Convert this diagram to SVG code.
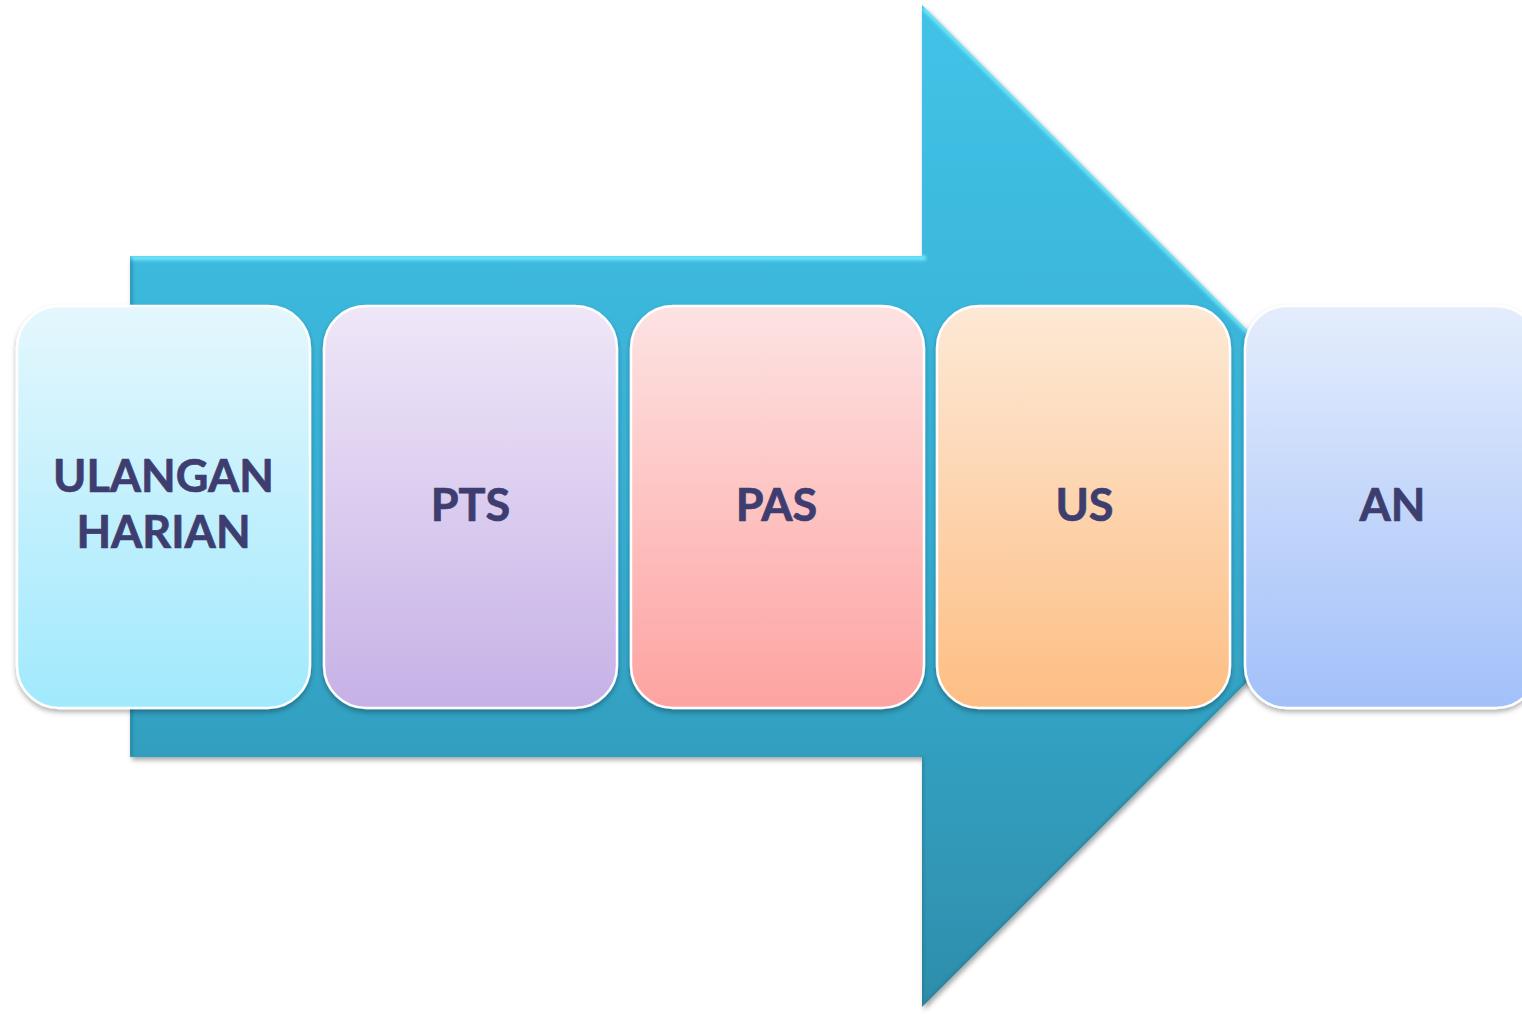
<svg xmlns="http://www.w3.org/2000/svg" width="1522" height="1014" viewBox="0 0 1522 1014">
  <defs>
    <linearGradient id="arrowFill" x1="0" y1="5" x2="0" y2="1007" gradientUnits="userSpaceOnUse">
      <stop offset="0" stop-color="#41C3E7"/>
      <stop offset="0.5" stop-color="#37AFD3"/>
      <stop offset="1" stop-color="#2E8EAB"/>
    </linearGradient>
    <linearGradient id="g1" x1="0" y1="0" x2="0" y2="1">
      <stop offset="0" stop-color="#E4F7FD"/>
      <stop offset="1" stop-color="#A1E9FD"/>
    </linearGradient>
    <linearGradient id="g2" x1="0" y1="0" x2="0" y2="1">
      <stop offset="0" stop-color="#EFE7F8"/>
      <stop offset="1" stop-color="#C6B1E6"/>
    </linearGradient>
    <linearGradient id="g3" x1="0" y1="0" x2="0" y2="1">
      <stop offset="0" stop-color="#FDE3E3"/>
      <stop offset="1" stop-color="#FDA3A1"/>
    </linearGradient>
    <linearGradient id="g4" x1="0" y1="0" x2="0" y2="1">
      <stop offset="0" stop-color="#FDE9D6"/>
      <stop offset="1" stop-color="#FDBE84"/>
    </linearGradient>
    <linearGradient id="g5" x1="0" y1="0" x2="0" y2="1">
      <stop offset="0" stop-color="#E4EDFC"/>
      <stop offset="1" stop-color="#A2C0F9"/>
    </linearGradient>
    <filter id="arrowShadow" x="-5%" y="-5%" width="115%" height="115%">
      <feGaussianBlur in="SourceAlpha" stdDeviation="2.5"/>
      <feOffset dx="2" dy="3" result="off"/>
      <feFlood flood-color="#000" flood-opacity="0.35"/>
      <feComposite in2="off" operator="in"/>
      <feMerge>
        <feMergeNode/>
        <feMergeNode in="SourceGraphic"/>
      </feMerge>
    </filter>
    <filter id="boxShadow" x="-10%" y="-10%" width="120%" height="120%">
      <feGaussianBlur in="SourceAlpha" stdDeviation="2.5"/>
      <feOffset dx="0" dy="3" result="off"/>
      <feFlood flood-color="#000" flood-opacity="0.3"/>
      <feComposite in2="off" operator="in"/>
      <feMerge>
        <feMergeNode/>
        <feMergeNode in="SourceGraphic"/>
      </feMerge>
    </filter>
    <filter id="soft" x="-5%" y="-5%" width="110%" height="110%">
      <feGaussianBlur stdDeviation="1.5"/>
    </filter>
    <clipPath id="arrowClip">
      <path d="M130 256 H922 V5 L1423 506 L922 1007 V757 H130 Z"/>
    </clipPath>
  </defs>
  <style>
    .box { stroke: #FFFFFF; stroke-width: 2.5; filter: url(#boxShadow); }
    .label { font-family: Lato, "Open Sans", "Liberation Sans", sans-serif; font-weight: bold; font-size: 45px; fill: #3E3D70; stroke: #3E3D70; stroke-width: 0.7; stroke-linejoin: round; text-anchor: middle; }
  </style>

  <!-- Background process arrow -->
  <g id="arrow">
    <path d="M130 256 H922 V5 L1423 506 L922 1007 V757 H130 Z" fill="url(#arrowFill)" filter="url(#arrowShadow)"/>
    <g clip-path="url(#arrowClip)" filter="url(#soft)">
      <!-- bevel highlight along upper edges -->
      <path d="M130 258 H926 M924 8 L1423 507" stroke="#7CEFFF" stroke-width="5" fill="none" opacity="0.8"/>
      <!-- darker bevel along lower and left edges -->
      <path d="M131 258 V756 M922 757 V1005 M924 1005 L1423 506" stroke="#1F6E86" stroke-width="4" fill="none" opacity="0.45"/>
    </g>
  </g>

  <g id="connectors"></g>

  <g id="node-ulangan">
    <rect class="box" x="17" y="306" width="293" height="402" rx="42" fill="url(#g1)"/>
    <text class="label" x="163.5" y="492">ULANGAN</text>
    <text class="label" x="163.5" y="548">HARIAN</text>
  </g>

  <g id="node-pts">
    <rect class="box" x="324" y="306" width="293" height="402" rx="42" fill="url(#g2)"/>
    <text class="label" x="470.5" y="521">PTS</text>
  </g>

  <g id="node-pas">
    <rect class="box" x="631" y="306" width="293" height="402" rx="42" fill="url(#g3)"/>
    <text class="label" x="776.5" y="521">PAS</text>
  </g>

  <g id="node-us">
    <rect class="box" x="937" y="306" width="293" height="402" rx="42" fill="url(#g4)"/>
    <text class="label" x="1084.5" y="521">US</text>
  </g>

  <g id="node-an">
    <rect class="box" x="1245" y="306" width="293" height="402" rx="42" fill="url(#g5)"/>
    <text class="label" x="1392.5" y="521">AN</text>
  </g>
</svg>
